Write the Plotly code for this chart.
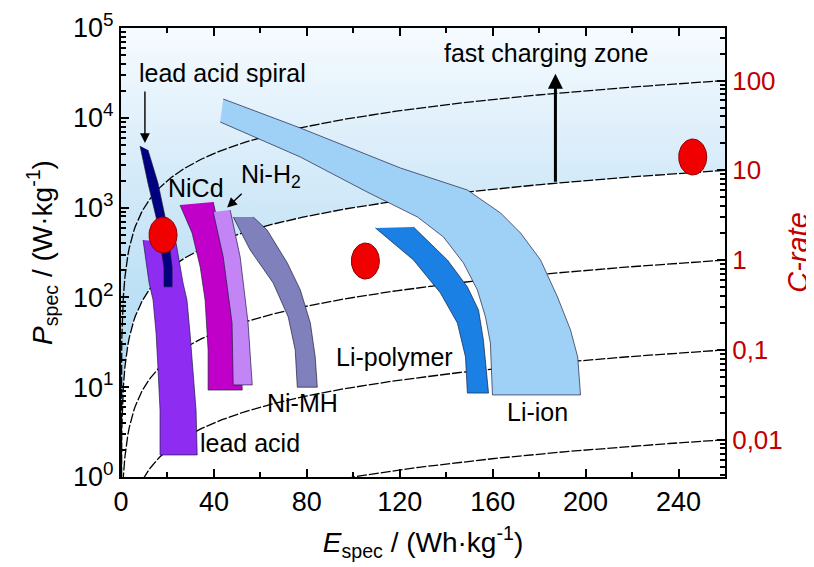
import numpy as np
import plotly.graph_objects as go

# ---------------- data ----------------
E_MAX = 260                      # Wh/kg, right end of x axis
C_RATES = [0.01, 0.1, 1, 10, 100]
C_RATE_LABELS = ["0,01", "0,1", "1", "10", "100"]
P_TICKS = [1, 10, 100, 1000, 1e4, 1e5]
P_TICK_LABELS = ["10<sup>0</sup>", "10<sup>1</sup>", "10<sup>2</sup>", "10<sup>3</sup>",
                 "10<sup>4</sup>", "10<sup>5</sup>"]
E_TICKS = [0, 40, 80, 120, 160, 200, 240]
FAST_ZONE_C = 10                 # fast charging zone lies above this C-rate

li_ion_E = [44.0, 77.2, 120.3, 149.1, 163.4, 172.0, 180.6, 187.9, 193.5, 196.6, 197.8,
            159.9, 159.0, 156.9, 153.4, 147.4, 138.8, 127.6, 106.0, 77.2, 42.7]
li_ion_P = [16200, 7700, 2760, 1570, 871, 521, 261, 101, 43.4, 21.7, 8.2,
            8.2, 31, 60.5, 121, 242, 471, 786, 1490, 3660, 8980]

li_poly_E = [109.5, 125.9, 137.5, 144.8, 148.3, 149.1, 158.2, 156.0, 153.9, 149.1, 140.5, 125.9]
li_poly_P = [593, 261, 112, 51.9, 21.7, 8.6, 8.6, 33.5, 72.4, 131, 261, 608]

nimh_E = [48.3, 55.6, 65.5, 72.0, 75.0, 75.9, 84.5, 83.6, 81.5, 77.2, 71.6, 62.9, 56.9]
nimh_P = [786, 337, 145, 60.5, 25.9, 10, 10, 21.7, 51.9, 121, 242, 563, 786]

nih2_E = [39.7, 44.0, 47.8, 48.3, 56.5, 54.7, 51.3, 47.0]
nih2_P = [894, 282, 51.9, 10.6, 10.6, 51.9, 282, 940]

nicd_E = [25.4, 30.6, 34.1, 36.2, 37.5, 37.5, 52.2, 51.3, 49.1, 46.1, 42.7, 39.7]
nicd_P = [1069, 521, 218, 93.5, 25.9, 9.3, 9.3, 25.9, 93.5, 218, 521, 1154]

lead_E = [9.5, 12.1, 13.8, 15.1, 15.9, 16.8, 16.8, 32.8, 32.3, 31.0, 29.7, 28.4, 26.7, 23.7]
lead_P = [436, 145, 93.5, 40.1, 16.8, 5.57, 1.76, 1.76, 5.57, 16.8, 40.1, 93.5, 145, 403]

spiral_E = [8.2, 11.6, 15.1, 17.2, 18.5, 18.5, 22.0, 22.0, 21.1, 19.0, 15.9, 11.6]
spiral_P = [4850, 1880, 786, 337, 218, 131, 131, 218, 337, 786, 1880, 4380]

dots_E = [18.1, 105.2, 246.1]
dots_P = [495, 254, 3660]

# ---------------- figure ----------------
FONT = "Liberation Sans, Arial, sans-serif"
RED = "#c00000"
fig = go.Figure()

# fast charging zone background (above C = 10 line)
Eg = np.concatenate([np.geomspace(0.3, 1, 20), np.linspace(1, E_MAX, 300)[1:]])
bgE = list(Eg) + [E_MAX, 0, 0]
bgP = list(FAST_ZONE_C * Eg) + [1e5, 1e5, FAST_ZONE_C * Eg[0]]
fig.add_trace(go.Scatter(
    x=bgE, y=bgP, mode="lines", line=dict(width=0), fill="toself",
    fillgradient=dict(type="vertical",
                      colorscale=[[0, "#aad6f1"], [0.35, "#bde0f5"], [0.65, "#d6ebf9"], [1, "#f6fbff"]]),
    hoverinfo="skip", showlegend=False))

# constant C-rate lines  P = C * E
Ec = np.concatenate([np.geomspace(0.001, 1, 80), np.linspace(1, E_MAX, 400)[1:]])
for c in C_RATES:
    fig.add_trace(go.Scatter(x=Ec, y=c * Ec, mode="lines",
                             line=dict(color="black", width=1.3, dash="10px,2px"),
                             hoverinfo="skip", showlegend=False))

OUT = "rgba(25,25,60,0.85)"
bands = [
    (li_ion_E, li_ion_P, "#9fd0f6"),
    (li_poly_E, li_poly_P, "#1a80e3"),
    (lead_E, lead_P, "#8f2cf2"),
    (spiral_E, spiral_P, "#000080"),
    (nicd_E, nicd_P, "#c000c8"),
    (nih2_E, nih2_P, "#c384f5"),
    (nimh_E, nimh_P, "#8080bc"),
]
for bx, by, col in bands:
    fig.add_trace(go.Scatter(x=bx, y=by, mode="lines", fill="toself", fillcolor=col,
                             line=dict(color=OUT, width=0.8), hoverinfo="skip",
                             showlegend=False))

# red dots (ellipses: 14 px x 18 px semi-axes)
RX_E = 14 / 2.32
RY_LOG = 18 / 89.8
t = np.linspace(0, 2 * np.pi, 60)
for e0, p0 in zip(dots_E, dots_P):
    fig.add_trace(go.Scatter(
        x=e0 + RX_E * np.cos(t), y=10 ** (np.log10(p0) + RY_LOG * np.sin(t)),
        mode="lines", fill="toself", fillcolor="#f00000",
        line=dict(color="#900000", width=1), hoverinfo="skip", showlegend=False))

# dummy trace for right axis
fig.add_trace(go.Scatter(x=[1], y=[1], yaxis="y2", mode="markers",
                         marker=dict(opacity=0), hoverinfo="skip", showlegend=False))

labels = [
    ("lead acid spiral", 43.5, 4.50),
    ("fast charging zone", 182.8, 4.72),
    ("NiCd", 32.3, 3.22),
    ("Ni-H<sub>2</sub>", 64.5, 3.35),
    ("Ni-MH", 78.0, 0.824),
    ("lead acid", 55.6, 0.379),
    ("Li-polymer", 117.7, 1.336),
    ("Li-ion", 179.3, 0.724),
]
for txt, x, y in labels:
    fig.add_annotation(x=x, y=y, text=txt, showarrow=False,
                       font=dict(family=FONT, size=25, color="black"))

arrows = [  # tip E, tip logP, tail E, tail logP, width, size
    (187, 4.49, 187, np.log10(FAST_ZONE_C * 187), 3, 1.0),
    (10.3, 3.72, 10.3, 4.31, 1.4, 1.4),
    (45.7, 3.00, 52.6, 3.17, 1.4, 1.4),
]
for x, y, ax, ay, w, s in arrows:
    fig.add_annotation(x=x, y=y, ax=ax, ay=ay, axref="x", ayref="y", text="",
                       showarrow=True, arrowhead=2, arrowsize=s, arrowwidth=w,
                       arrowcolor="black", standoff=0)

# The page body has an 8 px default margin, so the figure is 8 px smaller
# and its margins 8 px tighter on the left/top to fill the 814x567 window.
fig.update_layout(
    width=806, height=559,
    margin=dict(l=113, r=89, t=20, b=90, autoexpand=False),
    paper_bgcolor="white", plot_bgcolor="white",
    font=dict(family=FONT, color="black"),
    xaxis=dict(range=[0, E_MAX], tickvals=E_TICKS, ticks="inside", ticklen=8,
               tickwidth=1.5, tickcolor="black",
               minor=dict(dtick=20, ticks="inside", ticklen=5, tickcolor="black"),
               showline=True, linecolor="black", linewidth=2, mirror="ticks",
               showgrid=False, zeroline=False,
               tickfont=dict(size=27, family=FONT),
               title=dict(text="<i>E</i><sub>spec</sub> / (Wh·kg<sup>-1</sup>)",
                          font=dict(size=28, family=FONT), standoff=16)),
    yaxis=dict(type="log", range=[0, 5], tickvals=P_TICKS, ticktext=P_TICK_LABELS,
               ticks="inside", ticklen=8, tickwidth=1.5, tickcolor="black",
               minor=dict(dtick="D1", ticks="inside", ticklen=5, tickcolor="black"),
               showline=True, linecolor="black", linewidth=2, mirror=False,
               showgrid=False, zeroline=False,
               tickfont=dict(size=27, family=FONT),
               title=dict(text="<i>P</i><sub>spec</sub> / (W·kg<sup>-1</sup>)",
                          font=dict(size=28, family=FONT), standoff=12)),
    yaxis2=dict(type="log", overlaying="y", side="right",
                range=[-np.log10(E_MAX), 5 - np.log10(E_MAX)],
                tickvals=C_RATES, ticktext=C_RATE_LABELS,
                ticks="inside", ticklen=8, tickwidth=1.5, tickcolor="black",
                minor=dict(dtick="D1", ticks="inside", ticklen=5, tickcolor="black"),
                showline=True, linecolor="black", linewidth=2,
                showgrid=False, zeroline=False,
                tickfont=dict(size=26, family=FONT, color=RED),
                title=dict(text="<i>C-rate</i>", font=dict(size=29, family=FONT, color=RED),
                           standoff=8)),
)

fig.write_html("out.html")
